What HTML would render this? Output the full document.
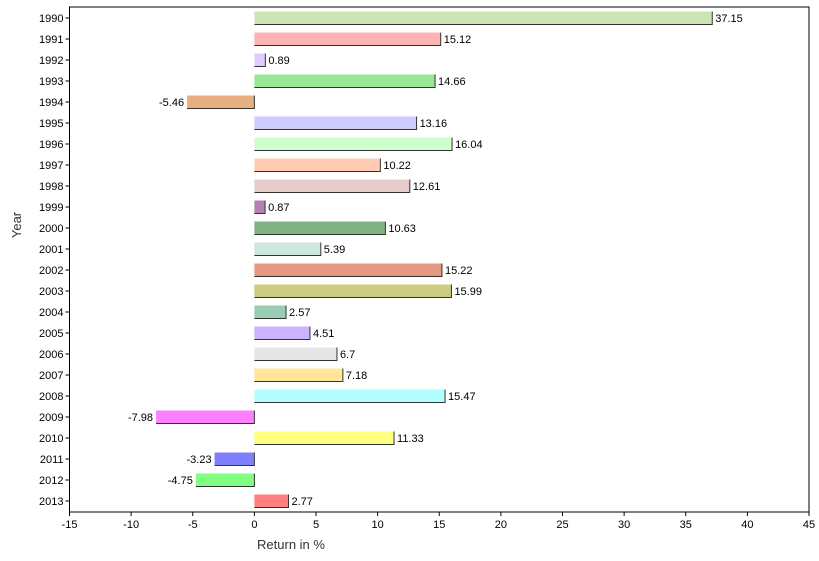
<!DOCTYPE html>
<html><head><meta charset="utf-8"><style>
body{margin:0;background:#fff;}
svg text{font-family:"Liberation Sans",sans-serif;font-size:11px;fill:#000;}
</style></head><body>
<svg id="c" width="819" height="556" xmlns="http://www.w3.org/2000/svg"></svg>
<script>
const data=[[1990,37.15,"#cce6b3"],[1991,15.12,"#ffb3b3"],[1992,0.89,"#e0ccff"],[1993,14.66,"#99e699"],[1994,-5.46,"#e6b080"],[1995,13.16,"#ccccff"],[1996,16.04,"#ccffcc"],[1997,10.22,"#ffccb3"],[1998,12.61,"#e6cccc"],[1999,0.87,"#b380b3"],[2000,10.63,"#80b380"],[2001,5.39,"#cce6e0"],[2002,15.22,"#e69980"],[2003,15.99,"#cccc80"],[2004,2.57,"#99ccb3"],[2005,4.51,"#ccb3ff"],[2006,6.7,"#e6e6e6"],[2007,7.18,"#ffe699"],[2008,15.47,"#b3ffff"],[2009,-7.98,"#ff80ff"],[2010,11.33,"#ffff80"],[2011,-3.23,"#8080ff"],[2012,-4.75,"#80ff80"],[2013,2.77,"#ff8080"]];
const L=69.5,R=809,T=7,B=512,k=(R-L)/60,X=v=>L+(v+15)*k,z=X(0);
let s=`<rect x="${L}" y="${T}" width="${R-L}" height="${B-T}" fill="#fff" stroke="#000" stroke-width="1"/>`;
data.forEach((d,i)=>{const y=18+i*21,v=d[1],x1=Math.min(z,X(v)),w=Math.abs(X(v)-z);
s+=`<line x1="${L-4}" y1="${y}" x2="${L}" y2="${y}" stroke="#000"/><text x="${L-6}" y="${y+4}" text-anchor="end">${d[0]}</text>`;
s+=`<rect x="${x1}" y="${y-6.5}" width="${w}" height="13" fill="${d[2]}"/>`;
s+=`<polyline points="${x1},${y+6.5} ${x1+w},${y+6.5} ${x1+w},${y-6.5}" fill="none" stroke="#333" stroke-width="1"/>`;
s+=v>=0?`<text x="${X(v)+3}" y="${y+4}">${v}</text>`:`<text x="${X(v)-3}" y="${y+4}" text-anchor="end">${v}</text>`;});
for(let v=-15;v<=45;v+=5){const x=X(v);s+=`<line x1="${x}" y1="${B}" x2="${x}" y2="${B+4}" stroke="#000"/><text x="${x}" y="${B+16}" text-anchor="middle">${v}</text>`;}
s+=`<text x="291" y="549" text-anchor="middle" style="font-size:13px;fill:#333">Return in %</text>`;
s+=`<text transform="translate(21,225) rotate(-90)" text-anchor="middle" style="font-size:13px;fill:#333">Year</text>`;
document.getElementById('c').innerHTML=s;
</script></body></html>
